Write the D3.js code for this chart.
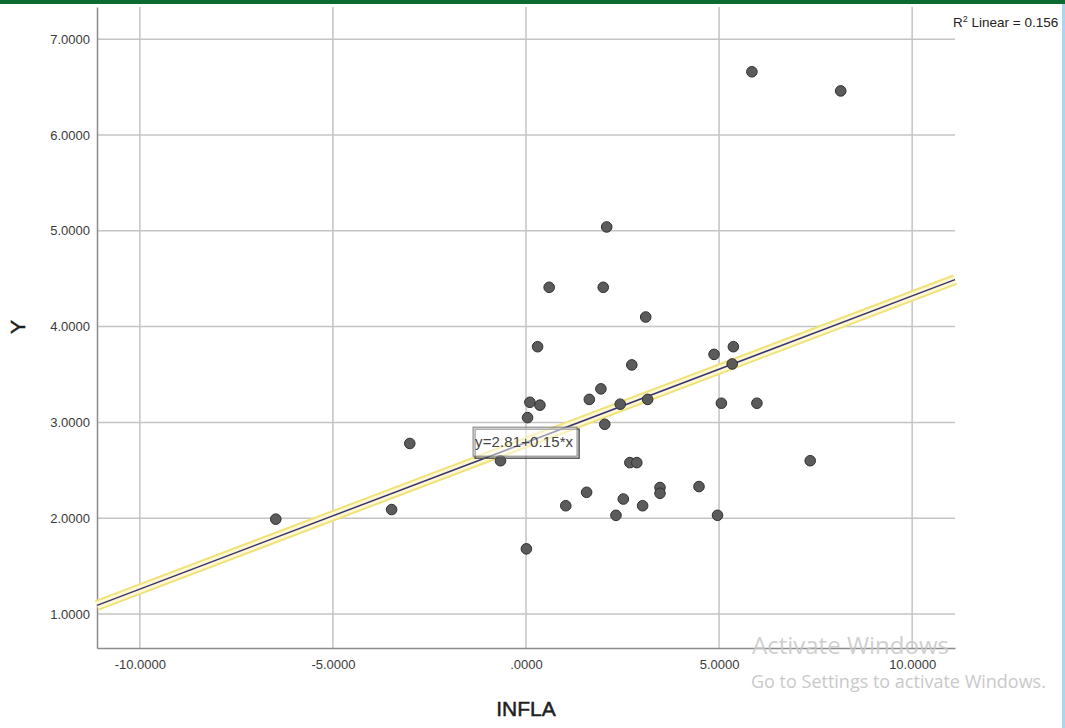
<!DOCTYPE html>
<html>
<head>
<meta charset="utf-8">
<script src="https://cdn.jsdelivr.net/npm/d3@7"></script>
<style>
  body { margin: 0; background: #fff; }
  svg { display: block; font-family: "Liberation Sans", Arial, sans-serif; }
</style>
</head>
<body>
<div id="chart"></div>
<script>
// INFLA (x) values
const inflaValues = [5.85, 8.15, 2.09, 0.60, 2.00, 3.10, 0.30, 4.87, 5.37, 2.74,
    5.34, 1.94, 1.64, 3.15, 0.10, 0.36, 2.44, 5.06, 5.98, 0.04,
    2.04, -3.01, -0.66, 2.69, 2.87, 7.36, 3.47, 3.47, 4.48, 1.57,
    2.52, 1.03, 3.02, 2.33, 4.96, -6.48, -3.48, 0.01];
// Y values, same order
const yValues = [6.66, 6.46, 5.04, 4.41, 4.41, 4.10, 3.79, 3.71, 3.79, 3.60,
    3.61, 3.35, 3.24, 3.24, 3.21, 3.18, 3.19, 3.20, 3.20, 3.05,
    2.98, 2.78, 2.60, 2.58, 2.58, 2.60, 2.32, 2.26, 2.33, 2.27,
    2.20, 2.13, 2.13, 2.03, 2.03, 1.99, 2.09, 1.68];

const xTicks = [-10, -5, 0, 5, 10];
const yTicks = [1, 2, 3, 4, 5, 6, 7];
const xDomain = [-11.11, 11.11];
const yDomain = [0.645, 7.336];

// fit line: intercept, slope
const fitLine = [2.79, 0.153];
const fitLabel = "y=2.81+0.15*x";
const r2Label = "0.156";

// SPSS style: 4 decimals, no leading zero, plain hyphen
function fmt(d) {
    const s = d3.format(".4f")(d).replace("\u2212", "-");
    return d === 0 ? ".0000" : s;
}

function drawSvg() {
    const margin = { top: 7, right: 110, bottom: 80, left: 97 },
        width = 955 - 97,
        height = 648 - 7;

    const root = d3.select("#chart")
        .append("svg")
        .attr("width", 1065)
        .attr("height", 728);

    // window chrome: green bar on top, blue edge on the right
    root.append("rect").attr("x", 0).attr("y", 0).attr("width", 1065).attr("height", 4).attr("fill", "#0b6a2f");
    root.append("rect").attr("x", 1062).attr("y", 4).attr("width", 3).attr("height", 724).attr("fill", "#a9d7ef");

    const svg = root.append("g")
        .attr("transform", "translate(" + margin.left + "," + margin.top + ")");

    const x = d3.scaleLinear().domain(xDomain).range([0, width]);
    const y = d3.scaleLinear().domain(yDomain).range([height, 0]);

    // grid lines
    svg.append("g").selectAll("line")
        .data(yTicks)
        .enter().append("line")
        .attr("x1", 0).attr("x2", width)
        .attr("y1", d => y(d)).attr("y2", d => y(d))
        .attr("stroke", "#c4c4c4").attr("stroke-width", 1.5);
    svg.append("g").selectAll("line")
        .data(xTicks)
        .enter().append("line")
        .attr("y1", 0).attr("y2", height)
        .attr("x1", d => x(d)).attr("x2", d => x(d))
        .attr("stroke", "#c4c4c4").attr("stroke-width", 1.5);

    // axes
    const yAxis = svg.append("g")
        .call(d3.axisLeft(y).tickValues(yTicks).tickFormat(fmt).tickSize(0).tickPadding(7));
    yAxis.select(".domain").attr("stroke", "#8c8c8c").attr("stroke-width", 1.5);
    yAxis.selectAll("text").attr("font-size", "13px").attr("fill", "#3a3a3a")
        .attr("font-family", "'Liberation Sans', Arial, sans-serif");

    const xAxis = svg.append("g")
        .attr("transform", "translate(0," + height + ")")
        .call(d3.axisBottom(x).tickValues(xTicks).tickFormat(fmt).tickSize(0).tickPadding(12));
    xAxis.select(".domain").attr("stroke", "#8c8c8c").attr("stroke-width", 1.5);
    xAxis.selectAll("text").attr("font-size", "13px").attr("fill", "#3a3a3a")
        .attr("font-family", "'Liberation Sans', Arial, sans-serif");

    // axis titles
    root.append("text")
        .attr("x", 526).attr("y", 716)
        .attr("text-anchor", "middle")
        .attr("font-size", "21px").attr("fill", "#1e1e1e")
        .attr("stroke", "#1e1e1e").attr("stroke-width", 0.5)
        .text("INFLA");
    root.append("text")
        .attr("transform", "translate(25,327) rotate(-90)")
        .attr("text-anchor", "middle")
        .attr("font-size", "21px").attr("fill", "#1e1e1e")
        .attr("stroke", "#1e1e1e").attr("stroke-width", 0.5)
        .text("Y");

    // fit line with yellow halo
    const fit = xDomain.map(v => [x(v), y(fitLine[0] + fitLine[1] * v)]);
    const lineGen = d3.line();
    svg.append("path").attr("d", lineGen(fit))
        .attr("stroke", "#efe27a").attr("stroke-width", 11).attr("fill", "none");
    svg.append("path").attr("d", lineGen(fit))
        .attr("stroke", "#fdf8d4").attr("stroke-width", 7).attr("fill", "none");
    svg.append("path").attr("d", lineGen(fit))
        .attr("stroke", "#3b3472").attr("stroke-width", 1.5).attr("fill", "none");

    // points
    svg.selectAll("mypoint")
        .data(inflaValues)
        .enter()
        .append("circle")
        .attr("cx", (d, i) => x(d))
        .attr("cy", (d, i) => y(yValues[i]))
        .attr("r", 5.3)
        .attr("fill", "#5b5b5b")
        .attr("stroke", "#303030")
        .attr("stroke-width", 1);

    // equation label box
    const bx = x(-1.37), by = y(2.95);
    const label = svg.append("g").attr("transform", "translate(" + bx + "," + by + ")");
    label.append("rect").attr("x", 2).attr("y", 2).attr("width", 104).attr("height", 29)
        .attr("fill", "none").attr("stroke", "#555").attr("stroke-width", 1.5);
    label.append("rect").attr("x", 0).attr("y", 0).attr("width", 104).attr("height", 29)
        .attr("fill", "#fff").attr("fill-opacity", 0.5)
        .attr("stroke", "#777").attr("stroke-width", 1);
    label.append("text").attr("x", 2).attr("y", 20)
        .attr("font-size", "15px").attr("fill", "#444")
        .attr("textLength", 98)
        .text(fitLabel);

    // R-squared note
    const r2 = root.append("text")
        .attr("x", 953).attr("y", 27)
        .attr("font-size", "13.5px").attr("fill", "#222");
    r2.append("tspan").text("R");
    r2.append("tspan").attr("font-size", "9px").attr("dy", -5).text("2");
    r2.append("tspan").attr("dy", 5).text(" Linear = " + r2Label);

    // screen watermark
    root.append("text")
        .attr("x", 752).attr("y", 654)
        .attr("font-family", "'Open Sans', sans-serif")
        .attr("font-size", "24px").attr("fill", "#c9c9c9").attr("fill-opacity", 0.9)
        .text("Activate Windows");
    root.append("text")
        .attr("x", 751).attr("y", 688)
        .attr("font-family", "'Open Sans', sans-serif")
        .attr("font-size", "18px").attr("fill", "#c9c9c9")
        .text("Go to Settings to activate Windows.");
}

drawSvg();
</script>
</body>
</html>
